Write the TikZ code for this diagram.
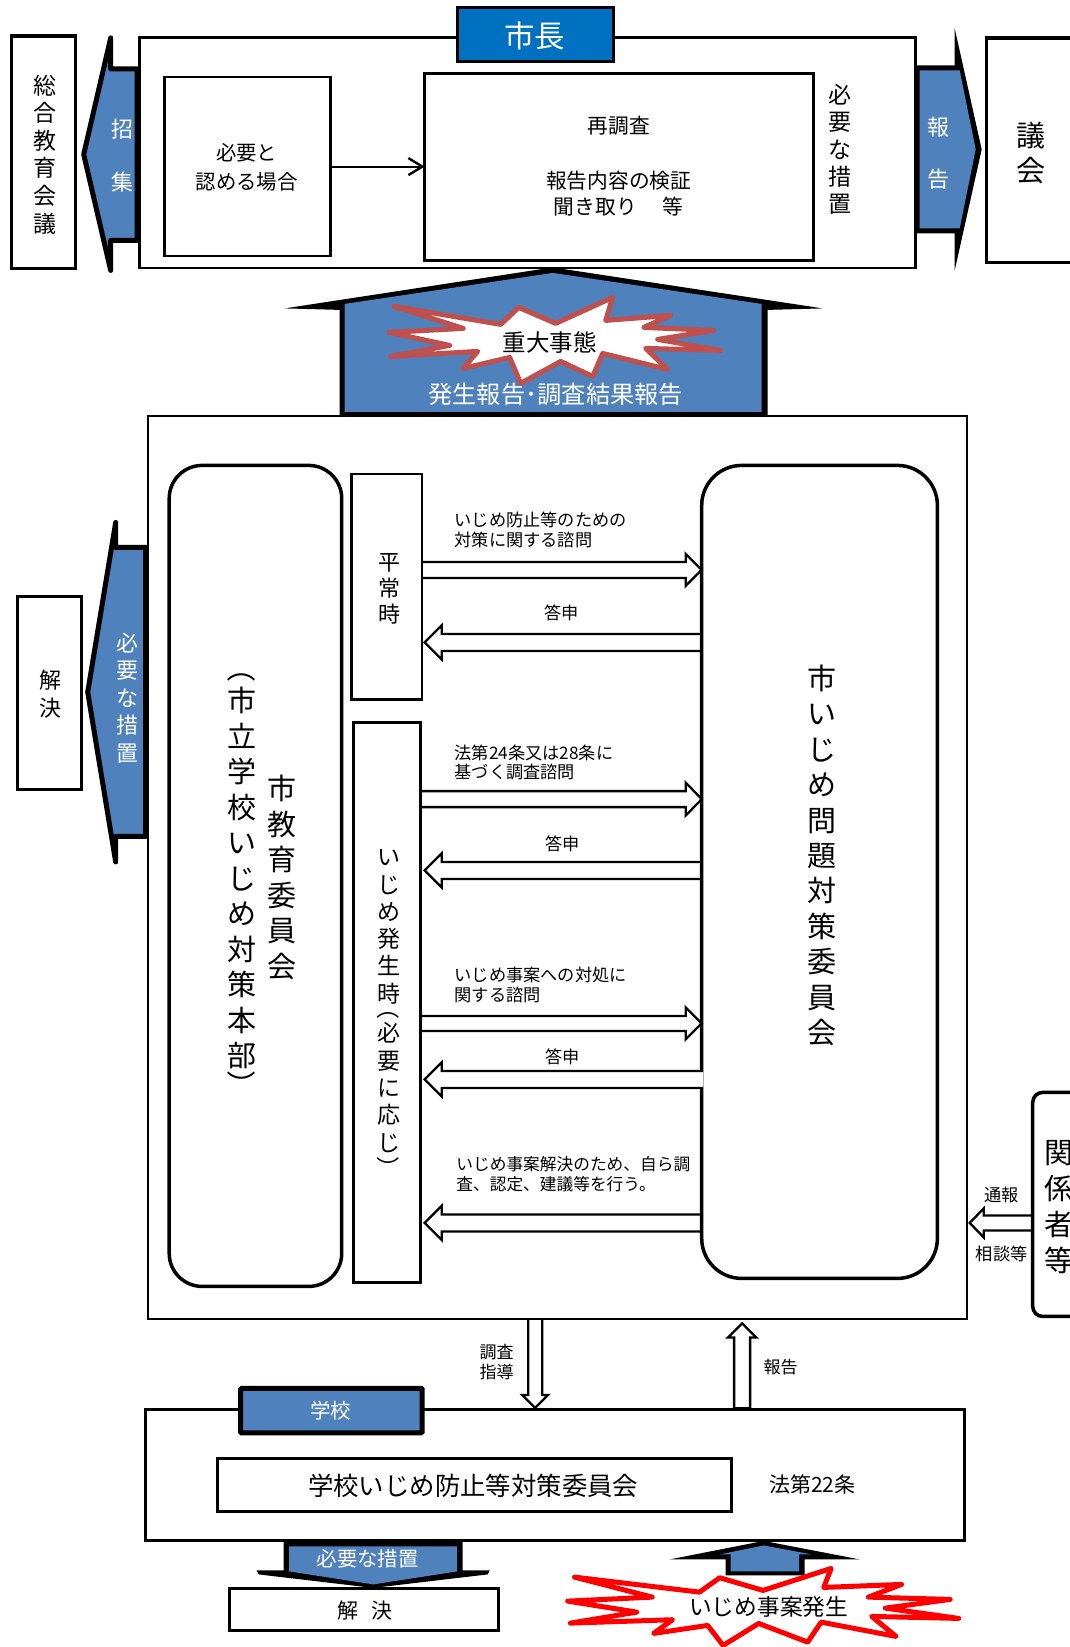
\documentclass[tikz,border=0pt]{standalone}
\usepackage{graphicx}
\usepackage{fontspec}
\setmainfont{Noto Sans CJK JP}
\usetikzlibrary{calc,arrows.meta}
\definecolor{blueA}{HTML}{4F81BD}
\definecolor{blueB}{HTML}{0070C0}
\definecolor{burstA}{HTML}{C0504D}
\newcommand\sz[2]{\fontsize{#1}{#2}\selectfont\lineskiplimit=-100pt }
\newcommand\vopen{\rotatebox[origin=c]{-90}{（}}
\newcommand\vclose{\rotatebox[origin=c]{-90}{）}}
\tikzset{
  boxnode/.style={draw=black,fill=white,line width=2.5pt,inner sep=0pt,outer sep=0pt},
  tx/.style={inner sep=0pt,outer sep=0pt,align=center},
  txl/.style={inner sep=0pt,outer sep=0pt,align=left,anchor=west},
  wt/.style={tx,text=white},
  small/.style={font=\sz{17.2}{19.2}},
  hollow/.style={draw=black,line width=2.3pt,miter limit=20},
  blockarrow/.style={draw=black,fill=blueA,line width=5pt,line join=round},
  burst/.style={fill=white,line width=5pt,line join=round},
}
\newcommand\BoxNode[6][]{%
  \pgfmathsetmacro\bw{#5-#3}\pgfmathsetmacro\bh{#6-#4}%
  \node[boxnode,minimum width=\bw pt,minimum height=\bh pt,#1] (#2) at ({(#3+#5)/2},{(#4+#6)/2}) {};}
% hollow arrow from named point #2 to named point #3; #4 half body, #5 half head, #6 head length
\newcommand\HollowArrow[6][]{%
  \coordinate (hb) at ($(#3)!#6pt!(#2)$);
  \draw[hollow,#1] ($(#2)!#4pt!90:(#3)$) -- ($(hb)!#4pt!90:(#3)$) -- ($(hb)!#5pt!90:(#3)$) -- (#3)
    -- ($(hb)!#5pt!-90:(#3)$) -- ($(hb)!#4pt!-90:(#3)$) -- ($(#2)!#4pt!-90:(#3)$);}
\begin{document}
\begin{tikzpicture}[x=1pt,y=-1pt]
\useasboundingbox (-0.7,-0.4) rectangle (1068.3,1646.6);
\fill[white] (-0.7,-0.4) rectangle (1068.3,1646.6);

% ---- top block
\BoxNode{mayorframe}{138.6}{37}{914.6}{267.8}
\BoxNode[fill=blueB,line width=3pt]{mayor}{457}{7.5}{612.7}{60.7}
\node[wt,font=\sz{30.5}{36}] (mayortxt) at (534,35) {市長};
\BoxNode[line width=3.5pt]{sogo}{11}{35.5}{75}{268}
\node[tx,font=\sz{23}{27.6}] (sogotxt) at (44.6,154) {総\\合\\教\\育\\会\\議};
\draw[blockarrow] (136.5,68.5) -- (110,68.5) -- (110,37.5) -- (83,154) -- (110,270) -- (110,240) -- (136.5,240) -- cycle;
\node[wt,font=\sz{22}{53}] (shoshu) at (122,155.5) {招\\集};
\BoxNode{need}{163.6}{76.7}{330}{255.7}
\node[tx,font=\sz{20.4}{29}] (needtxt) at (246,166.5) {必要と\\認める場合};
\BoxNode{recheck}{424}{73}{813}{260}
\node[tx,font=\sz{20.7}{26}] (recheck1) at (618,125) {再調査};
\node[tx,font=\sz{20.7}{26}] (recheck2) at (618,193) {報告内容の検証\\聞き取り\hspace{26pt}等};
\draw[line width=1.8pt,-{Straight Barb[length=14pt,width=17pt,line width=2.4pt]}] (need.east) -- (recheck.west |- need.east);
\node[tx,font=\sz{23}{27.3}] (hitsuyo) at (839,149) {必\\要\\な\\措\\置};
\fill[black,miter limit=20] (914,65) -- (954,65) -- (954,28) -- (981,149) -- (954,270) -- (954,233) -- (914,233) -- cycle;
\fill[blueA] (919,70) -- (959,70) -- (975,149) -- (959,228) -- (919,228) -- cycle;
\node[wt,font=\sz{22}{52}] (hokoku) at (938,153) {報\\告};
\BoxNode[line width=3.5pt]{gikai}{986}{37.5}{1100}{262}
\node[tx,font=\sz{29}{35}] (gikaitxt) at (1030.7,152.5) {議\\会};

% ---- main frame
\BoxNode[line width=2pt]{main}{147}{416}{966}{1319}
% ---- house arrow
\fill[black] (339,416) -- (339,309.5) -- (284,308) -- (552,267) -- (822,308) -- (767,309.5) -- (767,416) -- cycle;
\fill[blueA] (344,411.5) -- (344,303.5) -- (552,272.5) -- (761,303.5) -- (761,411.5) -- cycle;
\draw[burst,draw=burstA] (393.6,306) -- (500,324) -- (518,307) -- (555,323) -- (612,297) -- (605,320) -- (670,315) -- (643,327) -- (713,330) -- (657,339) -- (720,350) -- (645,348) -- (667,369) -- (602,353) -- (592,376) -- (560,361) -- (520,383) -- (509,357) -- (462.5,368) -- (477,351) -- (390,356) -- (449,345) -- (388.6,332) -- (462.5,328) -- cycle;
\node[tx,font=\sz{23.5}{27}] (jutai) at (549,342) {重大事態};
\node[wt,font=\sz{24.3}{28}] (hassei) at (555,394) {発生報告･調査結果報告};

% ---- left action arrow
\draw[blockarrow] (145,547) -- (115,547) -- (115,522) -- (87,691.7) -- (115,861.5) -- (115,836) -- (145,836) -- cycle;
\node[wt,font=\sz{22}{27.5}] (sochi) at (127,697.5) {必\\要\\な\\措\\置};
\BoxNode{kaiketsuL}{16.7}{596}{80.7}{789}
\node[tx,font=\sz{22}{28}] (kaiketsuLtxt) at (49.7,694) {解\\決};

% ---- inner boxes
\BoxNode[rounded corners=33pt,line width=3.5pt]{kyoi}{168.5}{465}{341}{1286}
\node[tx,font=\sz{29}{35.6}] (kyoitxt) at (281.7,877) {市\\教\\育\\委\\員\\会};
\node[tx,font=\sz{29}{35.5}] (honbu) at (241,876.5) {\vopen\\[-3pt]市\\立\\学\\校\\い\\じ\\め\\対\\策\\本\\部\\[-6pt]\vclose};
\BoxNode{heijo}{351}{473.5}{421.5}{699}
\node[tx,font=\sz{22}{26}] (heijotxt) at (389,588) {平\\常\\時};
\BoxNode{ijimeji}{353}{722}{420}{1282}
\node[tx,font=\sz{23}{27.3}] (ijimetxt) at (388,1014) {い\\じ\\め\\発\\生\\時\\[-13pt]\vopen\\[-2pt]必\\要\\に\\応\\じ\\[-2pt]\vclose};
\BoxNode[rounded corners=40pt,line width=3.5pt]{iinkai}{701}{465}{936.7}{1278}
\node[tx,font=\sz{29}{35.4}] (iinkaitxt) at (821,855) {市\\い\\じ\\め\\問\\題\\対\\策\\委\\員\\会};

% ---- hollow arrows
\coordinate (a1s) at (heijo.east |- 0,569.5);   \coordinate (a1e) at (iinkai.west |- 0,569.5);
\coordinate (a2s) at (iinkai.west |- 0,642);    \coordinate (a2e) at (424,642);
\coordinate (a3s) at (ijimeji.east |- 0,798.7); \coordinate (a3e) at (iinkai.west |- 0,798.7);
\coordinate (a4s) at (iinkai.west |- 0,870);    \coordinate (a4e) at (424,870);
\coordinate (a5s) at (ijimeji.east |- 0,1023);  \coordinate (a5e) at (iinkai.west |- 0,1023);
\coordinate (a6s) at (702.5,1079);              \coordinate (a6e) at (424,1079);
\coordinate (a7s) at (iinkai.west |- 0,1222.5); \coordinate (a7e) at (424,1222.5);
\HollowArrow{a1s}{a1e}{8}{16}{16}
\HollowArrow{a2s}{a2e}{8.5}{17}{17}
\HollowArrow{a3s}{a3e}{8}{16.5}{16}
\HollowArrow{a4s}{a4e}{8.5}{17}{17}
\HollowArrow{a5s}{a5e}{7.5}{16}{16}
\HollowArrow[fill=white]{a6s}{a6e}{8.5}{17}{17}
\HollowArrow{a7s}{a7e}{8.5}{17}{17}
\node[txl,small] (q1) at (454,529.5) {いじめ防止等のための\\対策に関する諮問};
\node[tx,small] (ans1) at (561,612.7) {答申};
\node[txl,small] (q2) at (454,762) {法第24条又は28条に\\基づく調査諮問};
\node[tx,small] (ans2) at (562,843) {答申};
\node[txl,small] (q3) at (454,984.5) {いじめ事案への対処に\\関する諮問};
\node[tx,small] (ans3) at (562,1056.7) {答申};
\node[txl,font=\sz{16.7}{20}] (q4) at (455.7,1174) {いじめ事案解決のため、自ら調\\査、認定、建議等を行う。};

% ---- stakeholders
\BoxNode[rounded corners=10pt,line width=3.5pt]{kankei}{1032}{1092}{1120}{1316}
\node[tx,font=\sz{29}{36}] (kankeitxt) at (1058,1207) {関\\係\\者\\等};
\coordinate (a8s) at (kankei.west |- 0,1222.5);
\coordinate (a8e) at (969,1222.5);
\HollowArrow{a8s}{a8e}{7.5}{14.5}{14}
\node[tx,small] (tsuho) at (1000.7,1195) {通報};
\node[tx,small] (sodan) at (1001,1254) {相談等};

% ---- school
\BoxNode{school}{145}{1409}{964}{1540}
\BoxNode[fill=blueA,line width=5pt,rounded corners=1pt]{gakko}{240}{1388}{421.5}{1432.5}
\node[wt,font=\sz{20.5}{24}] (gakkotxt) at (330,1410) {学校};
\BoxNode[line width=2.5pt]{gakkoi}{217}{1458}{731}{1511}
\node[tx,font=\sz{25.4}{30}] (gakkoitxt) at (472.5,1485) {学校いじめ防止等対策委員会};
\node[tx,font=\sz{21}{25}] (ho22) at (811.6,1484) {法第22条};

\coordinate (a9s) at (534.5,1319);
\coordinate (a9e) at (534.5,1407.5);
\HollowArrow{a9s}{a9e}{7}{13}{13}
\coordinate (a10s) at (741.4,1408);
\coordinate (a10e) at (741.4,1323);
\draw[hollow] (733.5,1408) -- (749.5,1408);
\HollowArrow{a10s}{a10e}{8}{14}{14}
\node[tx,font=\sz{17}{20}] (chosa) at (496,1362) {調査\\指導};
\node[tx,font=\sz{17}{20}] (hokoku2) at (780,1367) {報告};

% ---- bottom arrows
\fill[black] (283,1540) -- (283,1570) -- (256,1570) -- (258,1574) -- (372.5,1587.5) -- (487,1574) -- (489,1570) -- (462,1570) -- (462,1540) -- cycle;
\fill[blueA] (288.5,1546) -- (288.5,1571) -- (372.5,1584) -- (456.5,1571) -- (456.5,1546) -- cycle;
\node[wt,font=\sz{20.4}{24}] (sochi2) at (367,1558) {必要な措置};
\BoxNode{kaiketsuB}{228.6}{1588}{498}{1630}
\node[tx,font=\sz{21}{25}] (kaiketsuBtxt) at (364,1610) {解\hspace{13pt}決};
\fill[black] (725,1575) -- (725,1559) -- (669,1559) -- (763,1540.5) -- (859,1559) -- (804,1559) -- (804,1575) -- cycle;
\fill[blueA] (730,1571) -- (730,1554) -- (719,1554) -- (763,1545) -- (811,1554) -- (798.4,1554) -- (798.4,1571) -- cycle;
\draw[burst,draw=red] (573.8,1576.7) -- (698.8,1591.7) -- (719,1577.3) -- (762.3,1590) -- (830.5,1568) -- (823,1587) -- (900.8,1584) -- (867.7,1596.7) -- (949.5,1599) -- (884.6,1607.7) -- (958,1618) -- (871,1616) -- (895.4,1636) -- (820.4,1621.7) -- (807,1641.7) -- (758,1623) -- (722.4,1645) -- (707,1625) -- (653,1633) -- (671.8,1619.3) -- (569.7,1622.7) -- (636,1611.7) -- (567,1600.7) -- (651.5,1596.7) -- cycle;
\node[tx,font=\sz{22.7}{27}] (jian) at (768,1606.7) {いじめ事案発生};
\end{tikzpicture}
\end{document}
